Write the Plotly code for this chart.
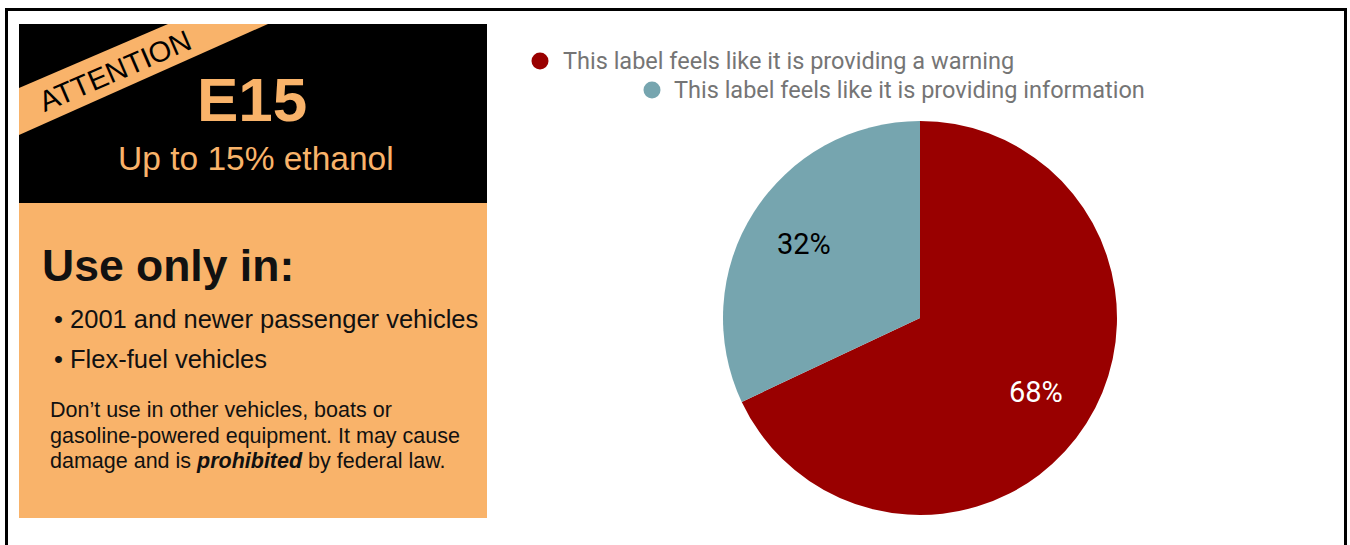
import math
import plotly.graph_objects as go

# ---------------- data ----------------
labels = ["This label feels like it is providing a warning",
          "This label feels like it is providing information"]
values = [68, 32]
slice_colors = ["#990000", "#76A5AF"]
slice_text_colors = ["#FFFFFF", "#000000"]

label_badge = "ATTENTION"
label_title = "E15"
label_subtitle = "Up to 15% ethanol"
label_heading = "Use only in:"
label_bullets = ["• 2001 and newer passenger vehicles", "• Flex-fuel vehicles"]
label_note = ["Don’t use in other vehicles, boats or",
              "gasoline-powered equipment. It may cause",
              "damage and is <b><i>prohibited</i></b> by federal law."]

# ---------------- helpers ----------------
W, H = 1350, 545


def px(x):
    return x / W


def py(y):
    return 1 - y / H


ORANGE = "#F9B36A"
LABEL_FONT = "Liberation Sans, Arial, sans-serif"
CHART_FONT = "Roboto, sans-serif"

# pie geometry (window pixels)
PIE_CX, PIE_CY, PIE_R = 920, 318, 197

fig = go.Figure()

fig.add_trace(go.Pie(
    labels=labels,
    values=values,
    marker=dict(colors=slice_colors, line=dict(width=0)),
    sort=False,
    direction="clockwise",
    rotation=0,
    textinfo="none",
    hoverinfo="label+percent",
    showlegend=False,
    domain=dict(x=[px(PIE_CX - PIE_R), px(PIE_CX + PIE_R)],
                y=[py(PIE_CY + PIE_R), py(PIE_CY - PIE_R)]),
))

shapes = []
# outer frame
shapes.append(dict(type="rect", xref="paper", yref="paper",
                   x0=px(6.5), x1=px(1345.5), y0=py(600), y1=py(9.5),
                   line=dict(color="black", width=3), fillcolor="rgba(0,0,0,0)"))
# label picture: orange body + black header
shapes.append(dict(type="rect", xref="paper", yref="paper",
                   x0=px(19), x1=px(487), y0=py(518), y1=py(24),
                   line=dict(width=0), fillcolor=ORANGE, layer="below"))
shapes.append(dict(type="rect", xref="paper", yref="paper",
                   x0=px(19), x1=px(487), y0=py(203), y1=py(24),
                   line=dict(width=0), fillcolor="#000000", layer="below"))
# diagonal ATTENTION band
band_path = "M {a},{b} L {c},{d} L {e},{f} L {g},{h} Z".format(
    a=px(19), b=py(88), c=px(168), d=py(24), e=px(268), f=py(24), g=px(19), h=py(135))
shapes.append(dict(type="path", xref="paper", yref="paper", path=band_path,
                   line=dict(width=0), fillcolor=ORANGE, layer="below"))

# legend markers
legend_pos = [(540, 61), (652, 90)]
legend_text_x = [561, 672]
r = 8.5
for (cx, cy), col in zip(legend_pos, slice_colors):
    shapes.append(dict(type="circle", xref="paper", yref="paper",
                       x0=px(cx - r), x1=px(cx + r), y0=py(cy + r), y1=py(cy - r),
                       line=dict(width=0), fillcolor=col))

annotations = []
# legend texts
for (cx, cy), tx, lab in zip(legend_pos, legend_text_x, labels):
    annotations.append(dict(xref="paper", yref="paper", x=px(tx), y=py(cy),
                            xanchor="left", yanchor="middle", showarrow=False,
                            text=lab, font=dict(family=CHART_FONT, size=23.5, color="#757575")))

# slice percentage labels, placed on each slice's mid-angle at 70% of the radius
total = sum(values)
start = 0.0
for v, tc in zip(values, slice_text_colors):
    frac = v / total
    mid = (start + frac / 2) * 2 * math.pi  # clockwise from 12 o'clock
    lx = PIE_CX + 0.70 * PIE_R * math.sin(mid)
    ly = PIE_CY - 0.70 * PIE_R * math.cos(mid)
    annotations.append(dict(xref="paper", yref="paper", x=px(lx), y=py(ly),
                            xanchor="center", yanchor="middle", showarrow=False,
                            text="{:.0f}%".format(frac * 100),
                            font=dict(family=CHART_FONT, size=29, color=tc)))
    start += frac

# label texts
annotations.append(dict(xref="paper", yref="paper", x=px(115), y=py(71),
                        xanchor="center", yanchor="middle", showarrow=False,
                        text=label_badge, textangle=-23.3,
                        font=dict(family=LABEL_FONT, size=29, color="#000000")))
annotations.append(dict(xref="paper", yref="paper", x=px(252), y=py(99),
                        xanchor="center", yanchor="middle", showarrow=False,
                        text="<b>" + label_title + "</b>",
                        font=dict(family=LABEL_FONT, size=62, color=ORANGE)))
annotations.append(dict(xref="paper", yref="paper", x=px(256), y=py(158),
                        xanchor="center", yanchor="middle", showarrow=False,
                        text=label_subtitle,
                        font=dict(family=LABEL_FONT, size=33.5, color=ORANGE)))
annotations.append(dict(xref="paper", yref="paper", x=px(40), y=py(265),
                        xanchor="left", yanchor="middle", showarrow=False,
                        text="<b>" + label_heading + "</b>",
                        font=dict(family=LABEL_FONT, size=44.5, color="#111111")))
for i, b in enumerate(label_bullets):
    annotations.append(dict(xref="paper", yref="paper", x=px(52), y=py(319 + 40 * i),
                            xanchor="left", yanchor="middle", showarrow=False,
                            text=b,
                            font=dict(family=LABEL_FONT, size=25.5, color="#111111")))
for i, line in enumerate(label_note):
    annotations.append(dict(xref="paper", yref="paper", x=px(48), y=py(410 + 25.5 * i),
                            xanchor="left", yanchor="middle", showarrow=False,
                            align="left", text=line,
                            font=dict(family=LABEL_FONT, size=21.5, color="#111111")))

fig.update_layout(
    width=W, height=H,
    margin=dict(l=0, r=0, t=0, b=0),
    paper_bgcolor="white",
    plot_bgcolor="white",
    showlegend=False,
    shapes=shapes,
    annotations=annotations,
)

# remove the default page margin so the figure fills the 1350x545 window exactly
fig.write_html("out.html",
               config={"displayModeBar": False},
               post_script="document.body.style.margin='0';document.body.style.overflow='hidden';")
